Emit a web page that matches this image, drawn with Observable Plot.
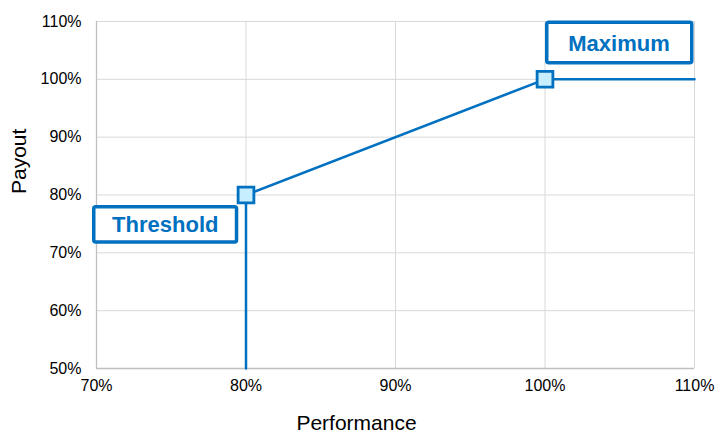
<!DOCTYPE html>
<html>
<head>
<meta charset="utf-8">
<script src="https://cdn.jsdelivr.net/npm/d3@7"></script>
<script src="https://cdn.jsdelivr.net/npm/@observablehq/plot@0.6"></script>
<style>
  html, body { margin: 0; padding: 0; background: #fff; }
  svg { display: block; }
</style>
</head>
<body>
<div id="chart"></div>
<script>
// Data
const xTicks = [70, 80, 90, 100, 110];
const yTicks = [50, 60, 70, 80, 90, 100, 110];
const performance = [80, 80, 100, 110];
const payout = [50, 80, 100, 100];
const markerPerf = [80, 100];
const markerPayout = [80, 100];
const labelText = ["Threshold", "Maximum"];
const labelX = [74.6, 104.95];
const labelY = [74.9, 106.2];
const labelX1 = [69.85, 100.15];
const labelX2 = [79.4, 109.85];
const labelY1 = [71.8, 102.8];
const labelY2 = [77.9, 109.8];

const blue = "#0070C0";
const font = "'Liberation Sans', Arial, sans-serif";

const line = performance.map((p, i) => ({x: p, y: payout[i]}));
const markers = markerPerf.map((p, i) => ({x: p, y: markerPayout[i]}));
const labels = labelText.map((t, i) => ({
  text: t, x: labelX[i], y: labelY[i],
  x1: labelX1[i], x2: labelX2[i], y1: labelY1[i], y2: labelY2[i]
}));

const chart = Plot.plot({
  width: 718,
  height: 432,
  marginLeft: 96,
  marginRight: 24,
  marginTop: 21,
  marginBottom: 64,
  style: {fontFamily: font, fontSize: "16px", color: "#000", background: "#fff"},
  x: {domain: [70, 110], ticks: xTicks, tickFormat: d => d + "%"},
  y: {domain: [50, 110], ticks: yTicks, tickFormat: d => d + "%"},
  marks: [
    Plot.gridX(xTicks, {stroke: "#d9d9d9", strokeOpacity: 1, strokeWidth: 1}),
    Plot.gridY(yTicks, {stroke: "#d9d9d9", strokeOpacity: 1, strokeWidth: 1}),
    Plot.ruleX([70], {stroke: "#bfbfbf", strokeWidth: 1.3}),
    Plot.ruleY([50], {stroke: "#bfbfbf", strokeWidth: 1.3}),
    Plot.axisX(xTicks, {tickSize: 0, tickPadding: 11, label: null, fontSize: 16, tickFormat: d => d + "%"}),
    Plot.axisY(yTicks, {tickSize: 0, tickPadding: 15, label: null, fontSize: 16, tickFormat: d => d + "%"}),
    Plot.line(line, {x: "x", y: "y", stroke: blue, strokeWidth: 2.5, strokeLinejoin: "miter"}),
    Plot.dot(markers, {x: "x", y: "y", symbol: "square", r: 8.9, fill: "#c6eeff", stroke: blue, strokeWidth: 2.8}),
    Plot.rect(labels, {x1: "x1", x2: "x2", y1: "y1", y2: "y2", fill: "#fff", stroke: blue, strokeWidth: 3.5, rx: 2}),
    Plot.text(labels, {x: "x", y: "y", text: "text", fill: blue, fontWeight: "bold", fontSize: 22}),
    Plot.text(["Performance"], {frameAnchor: "bottom", dy: 61, dx: -39, fontSize: 21, fill: "#000"}),
    Plot.text(["Payout"], {frameAnchor: "left", dx: -77, dy: -1, rotate: -90, fontSize: 21, fill: "#000"})
  ]
});
document.getElementById("chart").appendChild(chart);
</script>
</body>
</html>
